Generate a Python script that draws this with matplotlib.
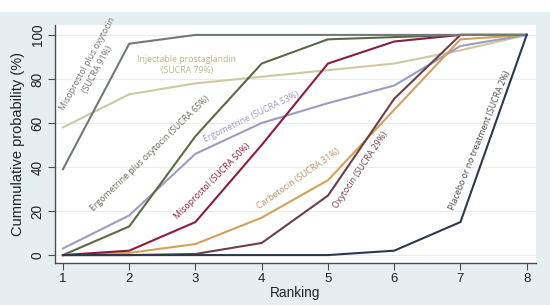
import matplotlib
matplotlib.use('Agg')
import matplotlib.pyplot as plt
from matplotlib.patches import Rectangle

ranks = [1, 2, 3, 4, 5, 6, 7, 8]

miso_oxy = [39, 96, 100, 100, 100, 100, 100, 100]
injectable = [58, 73, 78, 81, 84, 87, 93, 100]
ergo_oxy = [0, 13, 54, 87, 98, 99, 100, 100]
ergometrine = [3, 18, 46, 60, 69, 77, 95, 100]
misoprostol = [0, 2, 15, 50, 87, 97, 100, 100]
carbetocin = [0, 1, 5, 17, 34, 66, 98, 100]
oxytocin = [0, 0, 0.5, 5.5, 27, 71, 100, 100]
placebo = [0, 0, 0, 0, 0, 2, 15, 100]

# draw order and line colour
series = [
    (injectable, '#cdc9a0'),
    (ergometrine, '#9d9cc2'),
    (carbetocin, '#d4a058'),
    (oxytocin, '#6e3e4c'),
    (misoprostol, '#8c1d40'),
    (ergo_oxy, '#5b6b45'),
    (miso_oxy, '#707a78'),
    (placebo, '#2a3a4c'),
]

# label text, position (data), rotation, colour
labels = [
    ('Misoprostol plus oxytocin\n(SUCRA 91%)', 1.45, 85.5, 61, '#707070'),
    ('Injectable prostaglandin\n(SUCRA 79%)', 2.87, 86.5, 0, '#bdb88a'),
    ('Ergometrine plus oxytocin (SUCRA 65%)', 2.31, 46.0, 44, '#6a6a5a'),
    ('Ergometrine (SUCRA 53%)', 3.85, 63.0, 26, '#9d9cc2'),
    ('Misoprostol (SUCRA 50%)', 3.25, 33.5, 45, '#8c1d40'),
    ('Carbetocin (SUCRA 31%)', 4.56, 34.5, 35, '#b8956a'),
    ('Oxytocin (SUCRA 29%)', 5.49, 38.5, 56, '#6e3e4c'),
    ('Placebo or no treatment (SUCRA 2%)', 7.29, 52.0, 68, '#4a4a4a'),
]

fig = plt.figure(figsize=(5.5, 3.05), dpi=100, facecolor='#e6eef2')
fig.patches.append(Rectangle((0, 0.961), 1, 0.04, transform=fig.transFigure,
                             facecolor='white', edgecolor='none', zorder=0))
ax = fig.add_axes([0.1, 0.1377, 0.8745, 0.7803])
ax.set_facecolor('white')

for vals, col in series:
    ax.plot(ranks, vals, color=col, linewidth=1.5, solid_joinstyle='miter')

for txt, x, y, rot, col in labels:
    ax.text(x, y, txt, rotation=rot, color=col, fontsize=6.3, ha='center', va='center',
            family='Open Sans', rotation_mode='anchor', linespacing=1.3)

ax.set_xlim(0.88, 8.14)
ax.set_ylim(-3.6, 104.5)
ax.set_xticks(ranks)
ax.set_yticks([0, 20, 40, 60, 80, 100])
ax.grid(axis='y', color='#ececec', linewidth=0.8)
ax.set_axisbelow(True)

for side in ['top', 'right']:
    ax.spines[side].set_visible(False)
for side in ['left', 'bottom']:
    ax.spines[side].set_color('#4d4d4d')
    ax.spines[side].set_linewidth(1.0)

ax.tick_params(axis='both', direction='out', length=5, color='#4d4d4d',
               labelcolor='#222222', pad=2.5)
ax.tick_params(axis='x', labelsize=9.5, pad=2)
ax.tick_params(axis='y', labelsize=9.8)
for lab in ax.get_xticklabels() + ax.get_yticklabels():
    lab.set_family('Liberation Sans')
for lab in ax.get_yticklabels():
    lab.set_rotation(90)
    lab.set_va('center')

ax.set_xlabel('Ranking', fontsize=9.8, color='#222222', labelpad=1,
              family='Liberation Sans')
ax.set_ylabel('Cummulative probability (%)', fontsize=10.5, color='#222222', labelpad=4,
              family='Liberation Sans')

fig.savefig('out.png', dpi=100, facecolor=fig.get_facecolor())
